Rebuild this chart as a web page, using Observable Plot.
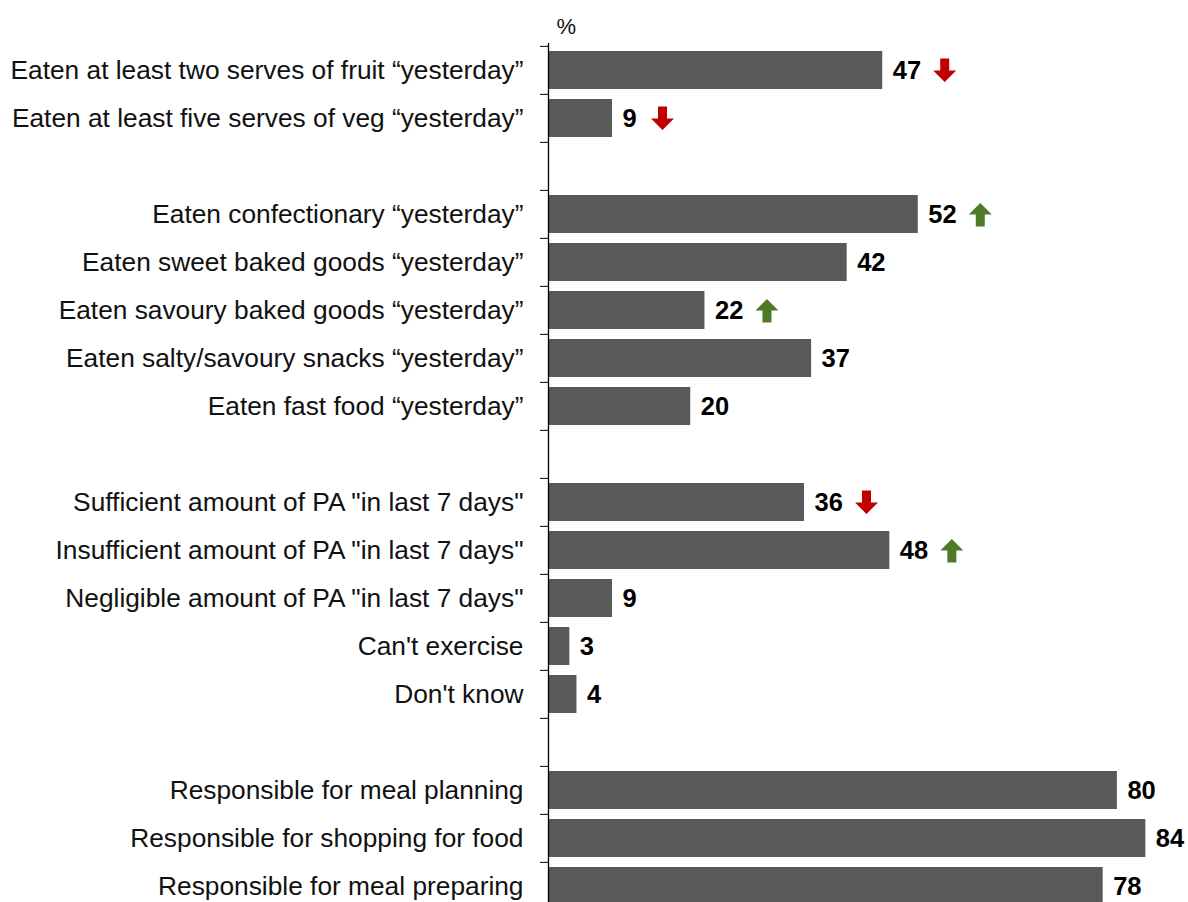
<!DOCTYPE html>
<html>
<head>
<meta charset="utf-8">
<script src="https://cdn.jsdelivr.net/npm/d3@7"></script>
<script src="https://cdn.jsdelivr.net/npm/@observablehq/plot@0.6"></script>
<style>
  html, body { margin: 0; padding: 0; background: #fff; overflow: hidden; }
  #chart svg { display: block; }
</style>
</head>
<body>
<div id="chart"></div>
<script>
// ---- data ----
const labels = [
  "Eaten at least two serves of fruit “yesterday”",
  "Eaten at least five serves of veg “yesterday”",
  "Eaten confectionary “yesterday”",
  "Eaten sweet baked goods “yesterday”",
  "Eaten savoury baked goods “yesterday”",
  "Eaten salty/savoury snacks “yesterday”",
  "Eaten fast food “yesterday”",
  "Sufficient amount of PA \"in last 7 days\"",
  "Insufficient amount of PA \"in last 7 days\"",
  "Negligible amount of PA \"in last 7 days\"",
  "Can't exercise",
  "Don't know",
  "Responsible for meal planning",
  "Responsible for shopping for food",
  "Responsible for meal preparing"
];
const values = [47, 9, 52, 42, 22, 37, 20, 36, 48, 9, 3, 4, 80, 84, 78];
const trends = ["down", "down", "up", null, "up", null, null, "down", "up", null, null, null, null, null, null];
const groupSizes = [2, 5, 5, 3];
const unitLabel = "%";

// ---- build slots (with spacer rows between groups) ----
const slots = [];
const rows = [];
let k = 0;
groupSizes.forEach((n, g) => {
  for (let i = 0; i < n; i++, k++) {
    const id = "r" + k;
    slots.push(id);
    rows.push({id, label: labels[k], value: values[k], trend: trends[k]});
  }
  if (g < groupSizes.length - 1) slots.push("gap" + g);
});
const labelOf = Object.fromEntries(rows.map(r => [r.id, r.label]));

const W = 1188, marginTop = 43, marginLeft = 548;
const step = 48.3;
const H = Math.round(marginTop + step * slots.length);

const downArrow = {
  draw(ctx) {
    ctx.moveTo(-4.5, -12); ctx.lineTo(4.5, -12); ctx.lineTo(4.5, 0);
    ctx.lineTo(11.5, 0); ctx.lineTo(0, 11.5); ctx.lineTo(-11.5, 0);
    ctx.lineTo(-4.5, 0); ctx.closePath();
  }
};
const upArrow = {
  draw(ctx) {
    ctx.moveTo(-4.5, 12); ctx.lineTo(4.5, 12); ctx.lineTo(4.5, 0);
    ctx.lineTo(11.5, 0); ctx.lineTo(0, -11.5); ctx.lineTo(-11.5, 0);
    ctx.lineTo(-4.5, 0); ctx.closePath();
  }
};
const trendRows = rows.filter(r => r.trend);
const arrowMarks = [1, 2].flatMap(digits => ["up", "down"].map(dir =>
  Plot.dot(trendRows.filter(r => r.trend === dir && String(r.value).length === digits), {
    x: "value", y: "id",
    symbol: dir === "up" ? upArrow : downArrow,
    fill: dir === "up" ? "#4E7A27" : "#C00000",
    stroke: null, r: 4,
    dx: 38 + 12 * digits, dy: 0
  })
));

const chart = Plot.plot({
  width: W,
  height: H,
  marginTop,
  marginLeft,
  marginRight: 0,
  marginBottom: 0,
  style: {fontFamily: "'Liberation Sans', Arial, sans-serif", fontSize: "25px", color: "#000", background: "#fff"},
  x: {domain: [0, 90], axis: null},
  y: {domain: slots, padding: 0, label: null},
  marks: [
    Plot.axisY({tickSize: 0, tickPadding: 25, tickFormat: d => labelOf[d] || "", fontSize: 26.3, fill: "#111"}),
    Plot.axisY({tickSize: 8, tickFormat: () => "", dy: -step / 2, stroke: "#000"}),
    Plot.barX(rows, {y: "id", x: "value", fill: "#595959", insetTop: 5, insetBottom: 5}),
    Plot.ruleX([0], {stroke: "#000", strokeWidth: 1.3}),
    Plot.text(rows, {x: "value", y: "id", text: d => String(d.value), dx: 10, textAnchor: "start",
      fontWeight: "bold", fontSize: 25.5, fill: "#000"}),
    ...arrowMarks,
    Plot.text([unitLabel], {frameAnchor: "top-left", dx: 8, dy: -17, lineAnchor: "middle", textAnchor: "start",
      fontSize: 22, fill: "#111"})
  ]
});
document.getElementById("chart").appendChild(chart);
</script>
</body>
</html>
